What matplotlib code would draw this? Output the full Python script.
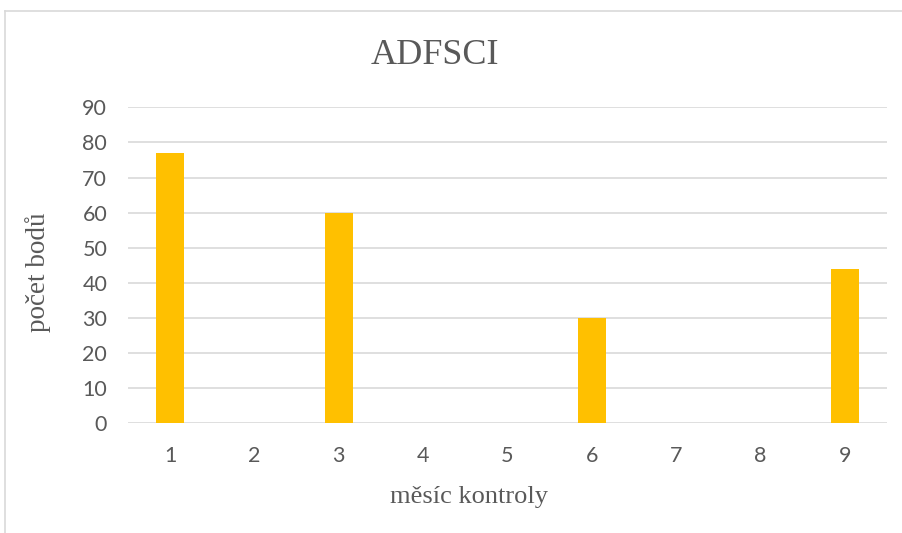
import matplotlib
matplotlib.use("Agg")
import matplotlib.pyplot as plt
from matplotlib.lines import Line2D

# Monthly check results
months = [1, 2, 3, 4, 5, 6, 7, 8, 9]
points = [77, 0, 60, 0, 0, 30, 0, 0, 44]
month_labels = [str(m) for m in months]
y_ticks = [0, 10, 20, 30, 40, 50, 60, 70, 80, 90]

title = "ADFSCI"
x_title = "měsíc kontroly"
y_title = "počet bodů"

W, H, DPI = 903, 533, 100
fig = plt.figure(figsize=(W / DPI, H / DPI), dpi=DPI)
fig.patch.set_facecolor("white")

grid_col = "#d9d9d9"
text_col = "#595959"
bar_col = "#FFC000"

ax = fig.add_axes([128 / W, 1 - 423.3 / H, (887 - 128) / W, (423.3 - 107.3) / H])
ax.bar(months, points, width=0.33, color=bar_col, zorder=3)
ax.set_xlim(0.5, 9.5)
ax.set_ylim(0, 90)
ax.set_yticks(y_ticks)
ax.set_xticks(months)
ax.set_xticklabels(month_labels)
ax.yaxis.grid(True, color=grid_col, linewidth=1.2, zorder=0)
ax.set_axisbelow(True)
for s in ax.spines.values():
    s.set_visible(False)
ax.tick_params(axis="both", length=0, labelcolor=text_col, labelsize=15.5)
ax.tick_params(axis="x", pad=16)
ax.tick_params(axis="y", pad=15)
for lab in ax.get_xticklabels() + ax.get_yticklabels():
    lab.set_fontfamily("Lato")

serif = ["Liberation Serif", "DejaVu Serif"]
fig.text(435 / W, 1 - 56 / H, title, ha="center", va="center",
         fontsize=26, color=text_col, family=serif)
fig.text(469 / W, 1 - 497 / H, x_title, ha="center", va="center",
         fontsize=19, color=text_col, family=serif)
fig.text(38 / W, 1 - 272 / H, y_title, ha="center", va="center",
         rotation=90, fontsize=19.5, color=text_col, family=serif)

# chart frame
fig.add_artist(Line2D([5 / W, 1.0], [1 - 11 / H, 1 - 11 / H],
                      color=grid_col, linewidth=1.2, transform=fig.transFigure))
fig.add_artist(Line2D([5 / W, 5 / W], [0.0, 1 - 11 / H],
                      color=grid_col, linewidth=1.2, transform=fig.transFigure))

fig.savefig("out.png", dpi=DPI)
